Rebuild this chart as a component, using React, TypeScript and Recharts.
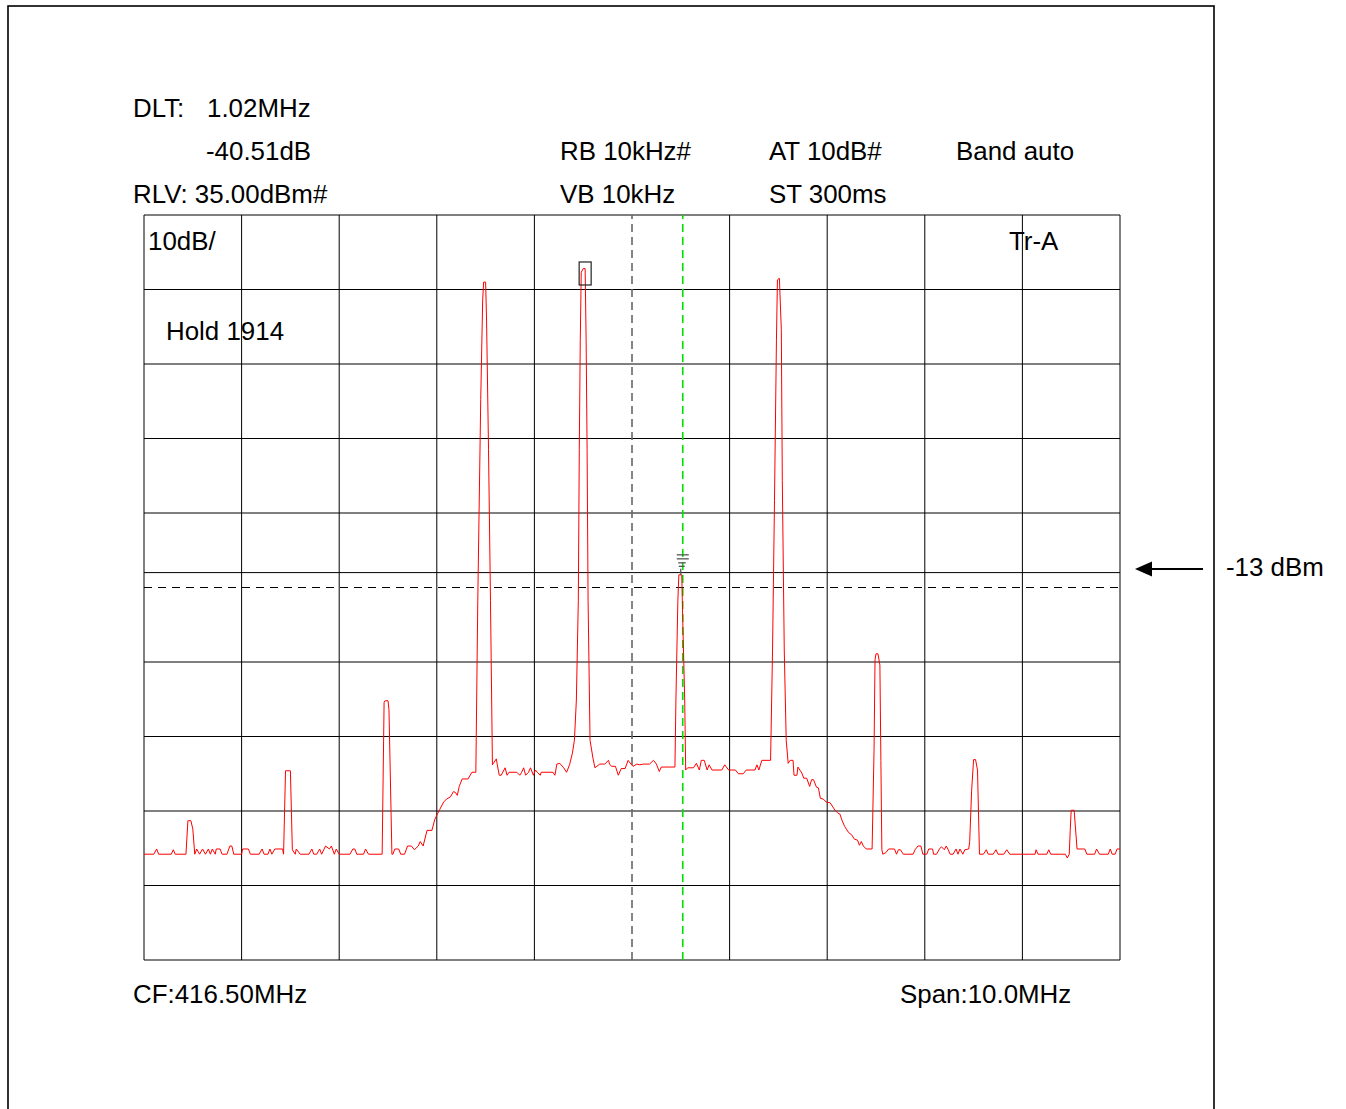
import React from 'react';
import { LineChart, Line, XAxis, YAxis, ReferenceLine, ReferenceDot } from 'recharts';

// ---- Instrument settings ----
const CENTER_MHZ = 416.5;
const SPAN_MHZ = 10;
const START_MHZ = CENTER_MHZ - SPAN_MHZ / 2;
const REF_LEVEL = 35; // dBm
const DB_PER_DIV = 10;
const BOTTOM_LEVEL = REF_LEVEL - 10 * DB_PER_DIV;

// ---- Grid ----
const freqDivisions = [0, 1, 2, 3, 4, 6, 7, 8, 9, 10]; // MHz from start
const centerDivision = 5;
const levelDivisions = [35, 25, 15, 5, -5, -25, -35, -45, -55, -65];
const dashedLevel = -15;
const limitLevel = -13;

// ---- Markers ----
const markerOffset = 4.52;
const markerLevel = 27.15;
const deltaOffset = 5.52;
const deltaLevel = -13.3;

// ---- Trace: [MHz from start, dBm] ----
const trace: [number, number][] = [
  [0.00,-50.8],[0.06,-50.8],[0.10,-50.8],[0.13,-50.1],[0.15,-50.8],[0.28,-50.8],[0.30,-50.2],[0.32,-50.8],
  [0.43,-50.8],[0.45,-46.3],[0.46,-46.3],[0.48,-46.3],[0.50,-47.4],[0.52,-50.8],[0.54,-50.1],[0.57,-50.8],
  [0.60,-50.1],[0.63,-50.8],[0.66,-50.1],[0.68,-50.8],[0.70,-50.1],[0.73,-50.8],[0.74,-50.1],[0.78,-50.1],
  [0.80,-50.8],[0.85,-50.8],[0.88,-49.7],[0.90,-49.7],[0.92,-50.8],[1.00,-50.8],[1.01,-50.1],[1.07,-50.1],
  [1.09,-50.8],[1.18,-50.8],[1.21,-50.1],[1.23,-50.8],[1.27,-50.8],[1.29,-50.1],[1.31,-50.8],[1.34,-50.1],
  [1.42,-50.1],[1.43,-50.8],
  [1.45,-39.6],[1.50,-39.6],[1.52,-50.2],[1.55,-50.8],[1.56,-50.1],[1.60,-50.8],[1.69,-50.8],[1.72,-50.1],
  [1.74,-50.8],[1.77,-50.8],[1.80,-50.1],[1.82,-50.8],[1.86,-49.7],[1.90,-50.1],[1.92,-49.7],[1.95,-50.8],
  [1.97,-50.1],[2.00,-50.8],[2.11,-50.8],[2.14,-50.1],[2.16,-50.1],[2.18,-50.8],[2.25,-50.8],[2.27,-50.1],
  [2.30,-50.8],[2.44,-50.8],
  [2.46,-30.4],[2.47,-30.2],[2.50,-30.2],[2.51,-31.4],[2.54,-50.8],[2.55,-50.8],[2.57,-50.1],[2.61,-50.1],
  [2.63,-50.8],[2.67,-50.8],[2.70,-49.7],[2.74,-49.7],[2.77,-50.2],[2.81,-49.7],[2.83,-49.1],[2.86,-49.7],
  [2.90,-47.6],[2.95,-47.6],[2.98,-46.1],[3.03,-44.8],[3.07,-43.8],[3.10,-43.4],[3.14,-43.1],[3.17,-42.4],
  [3.19,-42.5],[3.21,-42.9],[3.23,-41.7],[3.26,-40.7],[3.32,-40.7],[3.36,-39.8],[3.40,-39.8],
  [3.42,-16.7],[3.45,10.2],[3.47,23.6],[3.48,26.0],[3.50,26.0],[3.51,20.9],[3.53,3.5],[3.55,-16.7],
  [3.57,-38.8],[3.58,-38.6],[3.61,-38.0],[3.62,-38.8],[3.64,-40.2],[3.66,-40.2],[3.70,-39.2],[3.72,-40.2],
  [3.74,-39.8],[3.82,-39.8],[3.85,-40.2],[3.87,-39.8],[3.89,-39.2],[3.91,-40.2],[3.94,-39.8],[3.96,-39.2],
  [3.99,-40.2],[4.01,-39.5],[4.03,-39.8],[4.06,-40.2],[4.07,-39.8],[4.19,-39.8],[4.21,-40.2],[4.23,-38.7],
  [4.26,-38.6],[4.30,-39.2],[4.33,-39.8],[4.36,-38.8],[4.39,-37.2],
  [4.41,-35.5],[4.43,-30.1],[4.45,-16.7],[4.46,3.5],[4.47,18.2],[4.48,27.3],[4.50,27.8],[4.52,27.8],
  [4.53,18.2],[4.54,3.5],[4.55,-16.7],[4.57,-35.5],[4.60,-37.9],[4.62,-39.2],[4.64,-39.0],[4.67,-38.7],
  [4.72,-38.7],[4.76,-38.2],[4.77,-38.7],[4.79,-39.0],[4.83,-39.0],[4.86,-40.2],[4.89,-39.3],[4.93,-39.3],
  [4.96,-38.2],[4.99,-38.7],[5.01,-39.0],[5.05,-38.7],[5.08,-38.8],[5.12,-38.7],[5.18,-38.7],[5.22,-38.2],
  [5.25,-38.7],[5.28,-39.7],[5.30,-39.1],[5.44,-39.1],
  [5.45,-30.1],[5.47,-16.7],[5.48,-13.3],[5.51,-13.3],[5.52,-19.4],[5.54,-30.1],[5.55,-39.5],[5.57,-39.2],
  [5.63,-39.2],[5.66,-38.6],[5.69,-39.5],[5.71,-38.2],[5.74,-38.2],[5.77,-39.5],[5.79,-38.8],[5.82,-39.5],
  [5.92,-39.5],[5.95,-38.8],[5.99,-39.5],[6.06,-39.5],[6.09,-40.0],[6.14,-40.0],[6.17,-39.5],[6.26,-39.5],
  [6.28,-38.8],[6.30,-39.5],[6.33,-38.2],[6.42,-38.2],
  [6.44,-23.4],[6.46,-3.3],[6.48,18.2],[6.49,26.3],[6.51,26.5],[6.53,19.6],[6.54,-0.6],[6.56,-23.4],
  [6.58,-35.5],[6.60,-38.6],[6.62,-38.2],[6.65,-38.2],[6.66,-40.2],[6.69,-40.2],[6.70,-39.1],[6.74,-39.9],
  [6.76,-40.6],[6.79,-40.6],[6.82,-41.7],[6.84,-40.8],[6.86,-40.8],[6.89,-41.8],[6.91,-41.9],[6.93,-43.3],
  [6.96,-43.4],[6.99,-43.8],[7.03,-43.9],[7.08,-44.9],[7.11,-45.3],[7.13,-45.4],[7.15,-46.2],[7.18,-47.1],
  [7.22,-47.9],[7.25,-48.2],[7.28,-48.8],[7.31,-48.9],[7.33,-49.6],[7.35,-49.1],[7.37,-49.7],[7.40,-50.1],
  [7.46,-50.1],
  [7.48,-36.8],[7.49,-24.7],[7.50,-23.9],[7.52,-23.9],[7.54,-25.4],[7.55,-38.2],[7.56,-50.2],[7.57,-50.8],
  [7.60,-50.6],[7.63,-50.1],[7.69,-50.1],[7.71,-50.8],[7.73,-50.2],[7.75,-50.2],[7.78,-50.8],[7.88,-50.8],
  [7.90,-50.2],[7.93,-49.7],[7.96,-49.7],[7.98,-50.8],[8.02,-50.8],[8.04,-50.1],[8.08,-50.1],[8.09,-50.8],
  [8.12,-50.8],[8.15,-50.1],[8.17,-49.8],[8.20,-50.2],[8.22,-49.7],[8.24,-50.2],[8.26,-50.8],[8.29,-50.8],
  [8.32,-50.1],[8.34,-50.8],[8.36,-50.1],[8.39,-50.8],[8.41,-50.2],[8.45,-50.1],[8.46,-49.1],
  [8.48,-42.2],[8.50,-38.1],[8.52,-38.1],[8.54,-39.5],[8.56,-50.8],[8.60,-50.8],[8.63,-50.2],[8.65,-50.8],
  [8.70,-50.8],[8.73,-50.2],[8.75,-50.8],[8.81,-50.8],[8.84,-50.2],[8.87,-50.8],[9.13,-50.8],[9.14,-50.2],
  [9.16,-50.8],[9.25,-50.8],[9.27,-50.2],[9.29,-50.8],[9.44,-50.8],[9.46,-51.3],[9.48,-50.8],
  [9.49,-47.6],[9.50,-44.9],[9.53,-44.9],[9.56,-50.1],[9.59,-50.1],[9.64,-50.1],[9.66,-50.8],[9.74,-50.8],
  [9.76,-50.1],[9.79,-50.8],[9.88,-50.8],[9.90,-50.1],[9.92,-50.8],[9.95,-50.8],[9.97,-50.1],[10.00,-50.1],
];

// ---- Texts ----
const headerTexts = [
  { t: 'DLT:', x: 133, y: 117 },
  { t: '1.02MHz', x: 207, y: 117 },
  { t: '-40.51dB', x: 206, y: 160 },
  { t: 'RB 10kHz#', x: 560, y: 160 },
  { t: 'AT 10dB#', x: 769, y: 160 },
  { t: 'Band auto', x: 956, y: 160 },
  { t: 'RLV: 35.00dBm#', x: 133, y: 203 },
  { t: 'VB 10kHz', x: 560, y: 203 },
  { t: 'ST 300ms', x: 769, y: 203 },
  { t: '10dB/', x: 148, y: 250 },
  { t: 'Tr-A', x: 1009, y: 250 },
  { t: 'Hold 1914', x: 166, y: 340 },
  { t: '-13 dBm', x: 1226, y: 576 },
  { t: 'CF:416.50MHz', x: 133, y: 1003 },
  { t: 'Span:10.0MHz', x: 900, y: 1003 },
];

const data = trace.map(([off, lvl]) => ({ f: START_MHZ + off, level: lvl }));

const FONT = '"Liberation Sans", Arial, sans-serif';

const MarkerBox = (props: any) => {
  const { cx, cy } = props;
  return <rect x={cx - 6} y={cy - 11.5} width={12} height={23} fill="none" stroke="#222" strokeWidth={1.2} />;
};

const DeltaSymbol = (props: any) => {
  const { cx, cy } = props;
  return (
    <g stroke="#555" strokeWidth={1.3} fill="none">
      <line x1={cx - 6} x2={cx + 6} y1={cy - 20} y2={cy - 20} />
      <line x1={cx - 6} x2={cx + 6} y1={cy - 16} y2={cy - 16} />
      <line x1={cx - 4.5} x2={cx + 3} y1={cy - 12} y2={cy - 12} />
      <line x1={cx - 4} x2={cx + 2} y1={cy - 8.5} y2={cy - 8.5} />
      <line x1={cx - 2} x2={cx - 2} y1={cy - 6} y2={cy} />
    </g>
  );
};

export default function App() {
  return (
    <div style={{ position: 'absolute', left: 0, top: 0, width: 1346, height: 1109, background: '#fff', overflow: 'hidden' }}>
      <LineChart
        width={1346}
        height={1109}
        data={data}
        margin={{ top: 215, right: 226, bottom: 149, left: 144 }}
      >
        <XAxis dataKey="f" type="number" domain={[START_MHZ, START_MHZ + SPAN_MHZ]} hide allowDataOverflow />
        <YAxis type="number" domain={[BOTTOM_LEVEL, REF_LEVEL]} hide allowDataOverflow />
        {freqDivisions.map((d) => (
          <ReferenceLine key={'v' + d} x={START_MHZ + d} stroke="#000" strokeWidth={1} ifOverflow="extendDomain" />
        ))}
        {levelDivisions.map((l) => (
          <ReferenceLine key={'h' + l} y={l} stroke="#000" strokeWidth={1} ifOverflow="extendDomain" />
        ))}
        <ReferenceLine y={limitLevel} stroke="#000" strokeWidth={1} />
        <ReferenceLine y={dashedLevel} stroke="#000" strokeWidth={1} strokeDasharray="8 6" />
        <ReferenceLine x={START_MHZ + centerDivision} stroke="#666" strokeWidth={1.6} strokeDasharray="8 5" />
        <ReferenceLine x={START_MHZ + deltaOffset} stroke="#00e000" strokeWidth={1.6} strokeDasharray="8 5" />
        <Line
          type="linear"
          dataKey="level"
          stroke="#ff0000"
          strokeWidth={1}
          dot={false}
          activeDot={false}
          isAnimationActive={false}
        />
        <ReferenceDot x={START_MHZ + markerOffset} y={markerLevel} shape={MarkerBox} />
        <ReferenceDot x={START_MHZ + deltaOffset} y={deltaLevel} shape={DeltaSymbol} />
      </LineChart>
      <svg
        width={1346}
        height={1109}
        style={{ position: 'absolute', left: 0, top: 0, pointerEvents: 'none' }}
      >
        <rect x={8} y={6} width={1206} height={1200} fill="none" stroke="#000" strokeWidth={1.6} />
        {headerTexts.map((h) => (
          <text key={h.t} x={h.x} y={h.y} fontFamily={FONT} fontSize={25.9} fill="#000">
            {h.t}
          </text>
        ))}
        <line x1={1203} x2={1150} y1={569} y2={569} stroke="#000" strokeWidth={2} />
        <polygon points="1135,569 1152,561.5 1152,576.5" fill="#000" />
      </svg>
    </div>
  );
}
